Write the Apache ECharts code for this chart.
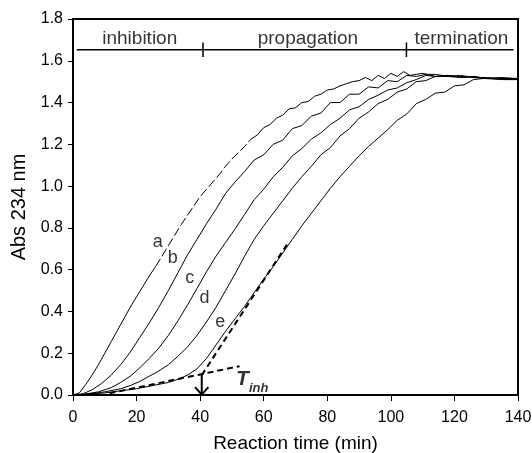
<!DOCTYPE html>
<html>
<head>
<meta charset="utf-8">
<script src="https://cdn.jsdelivr.net/npm/echarts@6/dist/echarts.min.js"></script>
<style>
  html, body { margin: 0; padding: 0; background: #fff; }
  #chart { width: 532px; height: 453px; }
</style>
</head>
<body>
<div id="chart"></div>
<script>
// curve a
var timeA = [0,2,4,6,8,10,12,14,16,18,20,22,24,26,28,30,32,34,36,38,40,42,44,46,48,50,52,54,56,58,60,62,64,66,68,70,72,74,76,78,80,82,84,86,88,90,92,94,96,98,100,102,104,106,108,110,114,118,122,126,130,135,140];
var absA = [0,0.01,0.05,0.095,0.145,0.2,0.255,0.31,0.365,0.42,0.47,0.52,0.57,0.615,0.665,0.715,0.765,0.815,0.86,0.905,0.95,0.985,1.02,1.055,1.095,1.13,1.16,1.19,1.225,1.245,1.28,1.295,1.325,1.34,1.37,1.375,1.4,1.405,1.43,1.44,1.46,1.465,1.48,1.49,1.5,1.505,1.52,1.505,1.53,1.515,1.54,1.525,1.548,1.53,1.535,1.54,1.525,1.53,1.52,1.525,1.515,1.52,1.515];
// curve b
var timeB = [0,3,6,9,12,15,18,21,24,27,30,33,36,39,42,45,48,51,54,57,60,63,66,69,72,75,78,81,84,87,90,93,96,99,102,105,108,111,114,118,122,126,130,135,140];
var absB = [0,0.005,0.025,0.055,0.095,0.145,0.205,0.275,0.345,0.42,0.5,0.585,0.67,0.745,0.82,0.89,0.965,1.02,1.07,1.125,1.15,1.2,1.22,1.275,1.29,1.335,1.35,1.4,1.4,1.44,1.44,1.475,1.47,1.505,1.5,1.53,1.525,1.535,1.535,1.525,1.53,1.52,1.52,1.515,1.515];
// curve c
var timeC = [0,4,8,12,15,18,21,24,27,30,33,36,39,42,45,48,51,54,57,60,63,66,69,72,75,78,81,84,87,90,93,96,99,102,105,108,111,114,118,122,126,130,135,140];
var absC = [0,0.005,0.015,0.035,0.06,0.09,0.13,0.175,0.225,0.285,0.355,0.43,0.51,0.59,0.665,0.73,0.795,0.865,0.935,0.985,1.045,1.09,1.145,1.18,1.225,1.255,1.295,1.325,1.365,1.38,1.415,1.435,1.46,1.47,1.495,1.51,1.53,1.525,1.525,1.52,1.525,1.515,1.515,1.51];
// curve d
var timeD = [0,5,10,15,18,21,24,27,30,33,36,39,42,45,48,51,54,57,60,63,66,69,72,75,78,81,84,87,90,93,96,99,102,105,108,111,114,118,122,126,130,135,140];
var absD = [0,0.005,0.015,0.03,0.045,0.065,0.09,0.115,0.145,0.185,0.23,0.285,0.35,0.42,0.5,0.58,0.665,0.745,0.81,0.87,0.93,0.99,1.045,1.095,1.15,1.185,1.24,1.275,1.325,1.355,1.395,1.415,1.45,1.465,1.5,1.505,1.525,1.53,1.525,1.52,1.515,1.51,1.51];
// curve e
var timeE = [0,5,10,15,20,25,30,33,36,39,42,45,48,51,54,57,60,63,66,69,72,75,78,81,84,87,90,93,96,99,102,105,108,111,114,117,120,123,126,129,132,136,140];
var absE = [0,0.005,0.01,0.02,0.03,0.045,0.06,0.075,0.095,0.125,0.175,0.24,0.305,0.365,0.425,0.49,0.555,0.615,0.68,0.745,0.81,0.87,0.93,0.99,1.045,1.095,1.145,1.19,1.23,1.27,1.315,1.345,1.395,1.415,1.445,1.45,1.48,1.485,1.51,1.515,1.515,1.51,1.51];

var curveNames = ['a', 'b', 'c', 'd', 'e'];
var curveLabelPos = [[26.7, 0.73], [31.4, 0.655], [36.7, 0.559], [41.4, 0.463], [46.3, 0.351]];
// stretch of curve a that is printed broken (dashed) in the figure
var aDashedFrom = 13, aDashedTo = 28; // indices into timeA

// tangent lines for T_inh
var lagLine = [[11.5, 0.008], [52.4, 0.138]];
var growthLine = [[40.5, 0.095], [67.3, 0.72]];
var tInh = 40.5;
var tInhAbs = 0.1;

// phase bar
var phaseY = 1.653;
var phaseStart = 1.2, phaseEnd = 138.6;
var phaseBounds = [40.9, 104.9];
var phaseNames = ['inhibition', 'propagation', 'termination'];
var phaseLabelX = [21, 73.9, 122.2];

function zip(t, v) { return t.map(function (x, i) { return [x, v[i]]; }); }

var font = 'Liberation Sans, Arial';
var series = [];
function curve(data, dash) {
  series.push({
    type: 'line', data: data, symbol: 'none', z: 3,
    lineStyle: { color: '#000', width: 1, type: dash || 'solid' }
  });
}
var dataA = zip(timeA, absA);
curve(dataA.slice(0, aDashedFrom + 1));
curve(dataA.slice(aDashedFrom, aDashedTo + 1), [9, 3]);
curve(dataA.slice(aDashedTo));
curve(zip(timeB, absB));
curve(zip(timeC, absC));
curve(zip(timeD, absD));
curve(zip(timeE, absE));

series.push({
  type: 'line', data: lagLine, symbol: 'none',
  lineStyle: { color: '#000', width: 2, type: [6, 4] }
});
series.push({
  type: 'line', data: growthLine, symbol: 'none',
  lineStyle: { color: '#000', width: 2, type: [6, 4] }
});
// arrow down to T_inh
series.push({
  type: 'line', data: [[tInh, tInhAbs], [tInh, 0]], symbol: 'none',
  lineStyle: { color: '#000', width: 2 }
});
series.push({
  type: 'line', data: [[tInh - 2.1, 0.038], [tInh, 0.002], [tInh + 2.1, 0.038]], symbol: 'none',
  lineStyle: { color: '#000', width: 2 }
});

// phase bar
series.push({
  type: 'line', data: [[phaseStart, phaseY], [phaseEnd, phaseY]], symbol: 'none',
  lineStyle: { color: '#000', width: 1.5 }
});
phaseBounds.forEach(function (x) {
  series.push({
    type: 'line', data: [[x, phaseY - 0.035], [x, phaseY + 0.035]], symbol: 'none',
    lineStyle: { color: '#000', width: 1.5 }
  });
});

// text labels
series.push({
  type: 'scatter', symbolSize: 0, silent: true,
  data: phaseNames.map(function (n, i) { return { value: [phaseLabelX[i], 1.705], name: n }; }),
  label: { show: true, position: 'inside', formatter: '{b}', fontSize: 19, fontFamily: font, color: '#000' }
});
series.push({
  type: 'scatter', symbolSize: 0, silent: true,
  data: curveNames.map(function (n, i) { return { value: curveLabelPos[i], name: n }; }),
  label: { show: true, position: 'inside', formatter: '{b}', fontSize: 18, fontFamily: font, color: '#000' }
});
series.push({
  type: 'scatter', symbolSize: 0, silent: true,
  data: [{ value: [51.3, 0.075], name: 'T' }],
  label: {
    show: true, position: 'right', distance: 0,
    formatter: '{t|T}{s|inh}',
    rich: {
      t: { fontSize: 21, fontStyle: 'italic', fontWeight: 'bold', fontFamily: font, color: '#000', verticalAlign: 'bottom' },
      s: { fontSize: 13, fontStyle: 'italic', fontWeight: 'bold', fontFamily: font, color: '#000', verticalAlign: 'bottom', padding: [0, 0, -5, 0] }
    }
  }
});

var chart = echarts.init(document.getElementById('chart'));
chart.setOption({
  animation: false,
  backgroundColor: '#fff',
  grid: { left: 73, top: 19, right: 14, bottom: 58, show: true, borderColor: '#000', borderWidth: 2,
    containLabel: false, outerBoundsMode: 'none' },
  xAxis: {
    type: 'value', min: 0, max: 140, interval: 20,
    name: 'Reaction time (min)', nameLocation: 'middle', nameGap: 39,
    nameTextStyle: { fontSize: 19, fontFamily: font, color: '#000' },
    axisLine: { onZero: false, lineStyle: { color: '#000', width: 2 } },
    axisTick: { length: 6, lineStyle: { color: '#000', width: 1 } },
    axisLabel: { fontSize: 16, fontFamily: font, color: '#000', margin: 15 },
    splitLine: { show: false }
  },
  yAxis: {
    type: 'value', min: 0, max: 1.8, interval: 0.2,
    name: 'Abs 234 nm', nameLocation: 'middle', nameGap: 37, nameRotate: 90,
    nameTextStyle: { fontSize: 20, fontFamily: font, color: '#000' },
    axisLine: { lineStyle: { color: '#000', width: 2 } },
    axisTick: { length: 5, lineStyle: { color: '#000', width: 1 } },
    axisLabel: { fontSize: 16, fontFamily: font, color: '#000', margin: 10,
      formatter: function (v) { return v.toFixed(1); } },
    splitLine: { show: false }
  },
  series: series
});
</script>
</body>
</html>
